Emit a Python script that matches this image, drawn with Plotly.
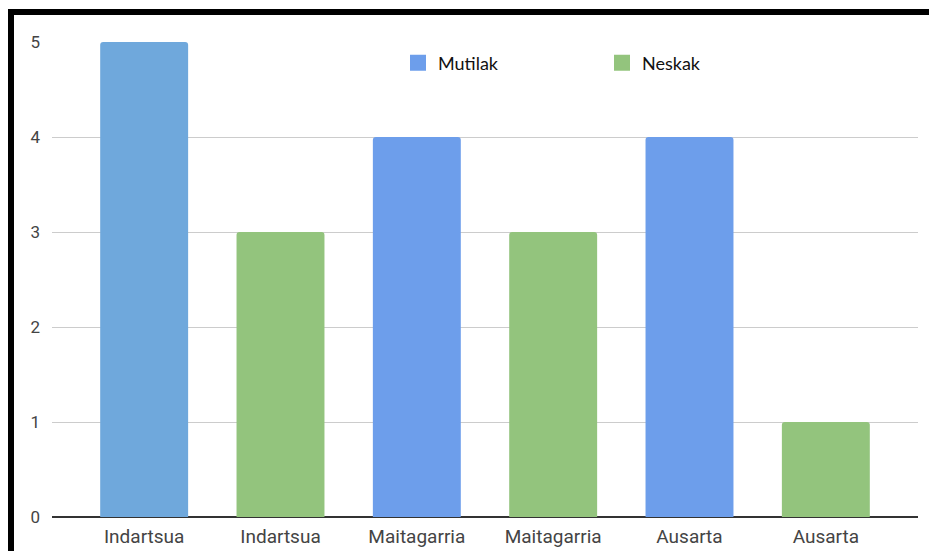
import plotly.graph_objects as go

categories = ["Indartsua", "Indartsua", "Maitagarria", "Maitagarria", "Ausarta", "Ausarta"]
mutilak_pos = [0, 2, 4]
mutilak_values = [5, 4, 4]
neskak_pos = [1, 3, 5]
neskak_values = [3, 3, 1]
mutilak_colors = ["#6fa8dc", "#6d9eeb", "#6d9eeb"]
mutilak_legend_color = "#6d9eeb"
neskak_color = "#93c47d"
y_ticks = [0, 1, 2, 3, 4, 5]

# page offset of the figure (browser default body margin)
OFF = 8
W, H = 921, 543
# plot area in page pixels: left 52, right 918, top 42, bottom 517
L = 52 - OFF
T = 42 - OFF
R = W - (918 - OFF)
B = H - (517 - OFF)
pw, ph = W - L - R, H - T - B

def px(x_page):
    return (x_page - OFF - L) / pw

def py(y_page):
    return (H - B - (y_page - OFF)) / ph

fig = go.Figure()
fig.add_trace(go.Bar(x=mutilak_pos, y=mutilak_values, name="Mutilak", showlegend=False,
                     marker=dict(color=mutilak_colors, line=dict(width=0)), width=0.645))
fig.add_trace(go.Bar(x=neskak_pos, y=neskak_values, name="Neskak", showlegend=False,
                     marker=dict(color=neskak_color, line=dict(width=0)), width=0.645))
# legend entries
fig.add_trace(go.Scatter(x=[None], y=[None], mode="markers", name="Mutilak",
                         marker=dict(symbol="square", size=16, color=mutilak_legend_color)))
fig.add_trace(go.Scatter(x=[None], y=[None], mode="markers", name="Neskak",
                         marker=dict(symbol="square", size=16, color=neskak_color)))

fig.update_layout(
    width=W, height=H,
    margin=dict(l=L, r=R, t=T, b=B, autoexpand=False),
    paper_bgcolor="white", plot_bgcolor="white",
    barcornerradius=3,
    showlegend=True,
    legend=dict(orientation="h", x=px(398), y=py(63), yanchor="middle", xanchor="left",
                font=dict(family="Lato, Open Sans, sans-serif", size=18, color="#111"),
                entrywidth=159, entrywidthmode="pixels", bgcolor="rgba(0,0,0,0)",
                itemclick=False),
    xaxis=dict(tickmode="array", tickvals=list(range(len(categories))), ticktext=categories,
               range=[-0.676, 5.676], showgrid=False, zeroline=False, showline=False,
               ticks="", ticklabelstandoff=6, automargin=False,
               tickfont=dict(family="Roboto, Arial, sans-serif", size=19, color="#444")),
    yaxis=dict(range=[0, 5], tickvals=y_ticks, showgrid=True, gridcolor="#cccccc", gridwidth=1,
               zeroline=True, zerolinecolor="#333333", zerolinewidth=1.5,
               ticks="", ticklabelstandoff=11, automargin=False,
               tickfont=dict(family="Roboto, Arial, sans-serif", size=17, color="#444")),
    shapes=[
        dict(type="rect", xref="paper", yref="paper", x0=px(8), x1=px(937), y0=py(15), y1=py(9),
             fillcolor="black", line=dict(width=0), layer="above"),
        dict(type="rect", xref="paper", yref="paper", x0=px(8), x1=px(14), y0=py(559), y1=py(9),
             fillcolor="black", line=dict(width=0), layer="above"),
    ],
)

fig.write_html("out.html")
